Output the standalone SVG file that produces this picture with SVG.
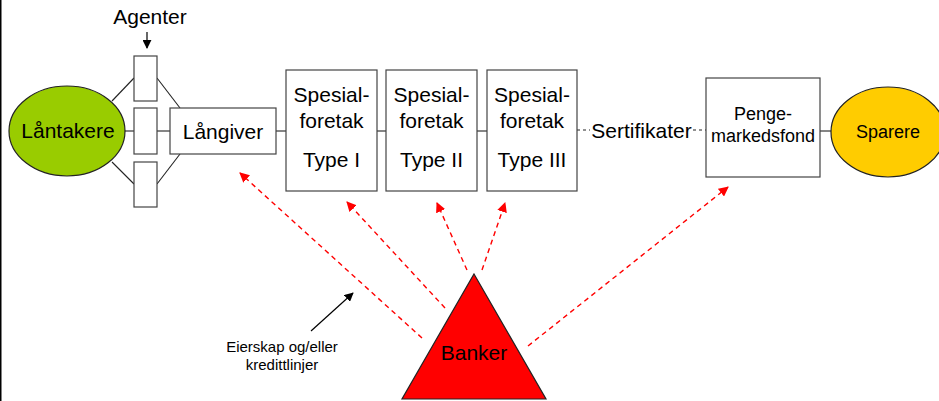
<svg xmlns="http://www.w3.org/2000/svg" width="939" height="401" viewBox="0 0 939 401">
<defs>
<style>
text{font-family:"Liberation Sans",Arial,sans-serif;fill:#000;text-anchor:middle}
.box{fill:#fff;stroke:#444;stroke-width:1.2}
.ln{stroke:#222;stroke-width:1.1;fill:none}
.dot{stroke:#222;stroke-width:1;stroke-dasharray:3 3;fill:none}
.red{stroke:#f00;stroke-width:1.4;stroke-dasharray:5 4;fill:none;marker-end:url(#ra)}
.t21{font-size:21px}
.t18{font-size:18px}
.t15{font-size:15px}
</style>
<marker id="ra" viewBox="0 0 10 10" refX="9" refY="5" markerWidth="10" markerHeight="10" markerUnits="userSpaceOnUse" orient="auto">
<path d="M0,0 L10,5 L0,10 Z" fill="#f00"/>
</marker>
<marker id="ba" viewBox="0 0 10 10" refX="9" refY="5" markerWidth="9" markerHeight="9" markerUnits="userSpaceOnUse" orient="auto">
<path d="M0,0 L10,5 L0,10 Z" fill="#000"/>
</marker>
</defs>
<rect x="0" y="0" width="939" height="401" fill="#fff"/>
<line x1="0.75" y1="0" x2="0.75" y2="401" stroke="#000" stroke-width="1.5"/>

<g id="connectors">
<line class="ln" x1="112" y1="101" x2="134" y2="78"/>
<line class="ln" x1="125" y1="131" x2="134" y2="131"/>
<line class="ln" x1="112" y1="162" x2="134" y2="184"/>
<line class="ln" x1="157" y1="78" x2="180" y2="108"/>
<line class="ln" x1="157" y1="131" x2="170" y2="131"/>
<line class="ln" x1="157" y1="184" x2="180" y2="154"/>
<line class="ln" x1="276" y1="131" x2="286" y2="131"/>
<line class="ln" x1="377" y1="131" x2="386" y2="131"/>
<line class="ln" x1="477" y1="131" x2="487" y2="131"/>
<line class="dot" x1="577" y1="130" x2="590" y2="130"/>
<line class="dot" x1="693" y1="130" x2="706" y2="130"/>
<line class="ln" x1="820" y1="131" x2="831" y2="131"/>
<line x1="147" y1="32" x2="147" y2="48" stroke="#000" stroke-width="1.2" marker-end="url(#ba)"/>
<line class="red" x1="422" y1="338" x2="240" y2="173"/>
<line class="red" x1="445" y1="308" x2="347" y2="202"/>
<line class="red" x1="467" y1="270" x2="437" y2="203"/>
<line class="red" x1="482" y1="270" x2="505" y2="203"/>
<line class="red" x1="528" y1="346" x2="728" y2="187"/>
<line x1="311" y1="331" x2="353" y2="293" stroke="#000" stroke-width="1.2" marker-end="url(#ba)"/>
</g>

<g id="lantakere">
<ellipse cx="67" cy="131" rx="58" ry="45" fill="#99cc00" stroke="#222" stroke-width="1.2"/>
<text class="t21" x="68" y="138">Låntakere</text>
</g>
<g id="agenter">
<text class="t21" x="150" y="24">Agenter</text>
<rect class="box" x="134" y="56" width="23" height="45"/>
<rect class="box" x="134" y="108" width="23" height="46"/>
<rect class="box" x="134" y="162" width="23" height="45"/>
</g>
<g id="langiver">
<rect class="box" x="170" y="108" width="106" height="46"/>
<text class="t21" x="223" y="139">Långiver</text>
</g>
<g id="type1">
<rect class="box" x="286" y="70" width="91" height="121"/>
<text class="t21" x="331.5" y="102">Spesial-</text>
<text class="t21" x="331.5" y="128">foretak</text>
<text class="t21" x="331.5" y="167">Type I</text>
</g>
<g id="type2">
<rect class="box" x="386" y="70" width="91" height="121"/>
<text class="t21" x="431.5" y="102">Spesial-</text>
<text class="t21" x="431.5" y="128">foretak</text>
<text class="t21" x="431.5" y="167">Type II</text>
</g>
<g id="type3">
<rect class="box" x="487" y="70" width="90" height="121"/>
<text class="t21" x="532" y="102">Spesial-</text>
<text class="t21" x="532" y="128">foretak</text>
<text class="t21" x="532" y="167">Type III</text>
</g>
<g id="sertifikater">
<text class="t21" x="641.5" y="138">Sertifikater</text>
</g>
<g id="pengemarkedsfond">
<rect class="box" x="706" y="78" width="114" height="99"/>
<text class="t18" x="763" y="120">Penge-</text>
<text class="t18" x="763" y="142">markedsfond</text>
</g>
<g id="sparere">
<ellipse cx="888" cy="132" rx="57" ry="45" fill="#ffcc00" stroke="#222" stroke-width="1.2"/>
<text class="t18" x="888" y="138">Sparere</text>
</g>
<g id="banker">
<polygon points="474,274 546,399 402,399" fill="#f00" stroke="#222" stroke-width="1.2"/>
<text class="t21" x="474" y="360">Banker</text>
</g>
<g id="eierskap">
<text class="t15" x="282" y="352">Eierskap og/eller</text>
<text class="t15" x="282" y="370">kredittlinjer</text>
</g>
</svg>
